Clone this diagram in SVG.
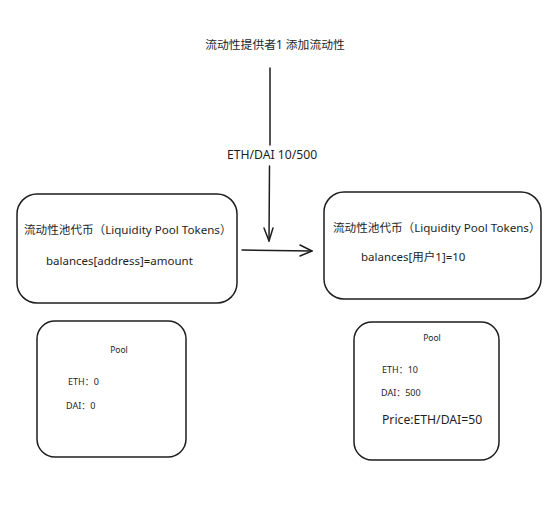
<svg xmlns="http://www.w3.org/2000/svg" width="545" height="510" viewBox="0 0 545 510">
<defs>
<style>
.t{font-family:"Noto Sans","Noto Sans CJK SC",sans-serif;fill:#1e1e1e}
.b{fill:#fff;stroke:#1e1e1e;stroke-width:1.5}
.c{fill:none;stroke:#1e1e1e;stroke-width:1.5;stroke-linecap:round;stroke-linejoin:round}
</style>
</defs>
<rect width="545" height="510" fill="#fff"/>
<g id="top-label"><text class="t" x="275" y="49" font-size="11.8" text-anchor="middle">流动性提供者1 添加流动性</text></g>
<g id="connectors">
<path class="c" d="M270 68 L270 145 M269.5 166 L269 241"/>
<path class="c" d="M264 228 L269 241 L273 228"/>
<text class="t" x="272" y="159" font-size="12.2" text-anchor="middle">ETH/DAI 10/500</text>
<path class="c" d="M242 250 L312 251"/>
<path class="c" d="M300 245 L312 251 L300 256"/>
</g>
<g id="lp-left">
<rect class="b" x="17" y="194" width="220" height="109" rx="20"/>
<text class="t" x="24" y="234" font-size="11.6">流动性池代币（Liquidity Pool Tokens）</text>
<text class="t" x="46" y="265" font-size="11.5">balances[address]=amount</text>
</g>
<g id="lp-right">
<rect class="b" x="324" y="192" width="217" height="107" rx="20"/>
<text class="t" x="333" y="232" font-size="11.6">流动性池代币（Liquidity Pool Tokens）</text>
<text class="t" x="361" y="261" font-size="11.5">balances[用户1]=10</text>
</g>
<g id="pool-left">
<rect class="b" x="37" y="321" width="149" height="136" rx="18"/>
<text class="t" x="119" y="353" font-size="8.5" text-anchor="middle">Pool</text>
<text class="t" x="68" y="385" font-size="9">ETH：0</text>
<text class="t" x="66" y="409" font-size="9">DAI：0</text>
</g>
<g id="pool-right">
<rect class="b" x="354" y="322" width="145" height="138" rx="18"/>
<text class="t" x="432" y="341" font-size="8.5" text-anchor="middle">Pool</text>
<text class="t" x="382" y="373" font-size="9">ETH：10</text>
<text class="t" x="381" y="396" font-size="9">DAI：500</text>
<text class="t" x="382" y="424" font-size="12.2">Price:ETH/DAI=50</text>
</g>
</svg>
